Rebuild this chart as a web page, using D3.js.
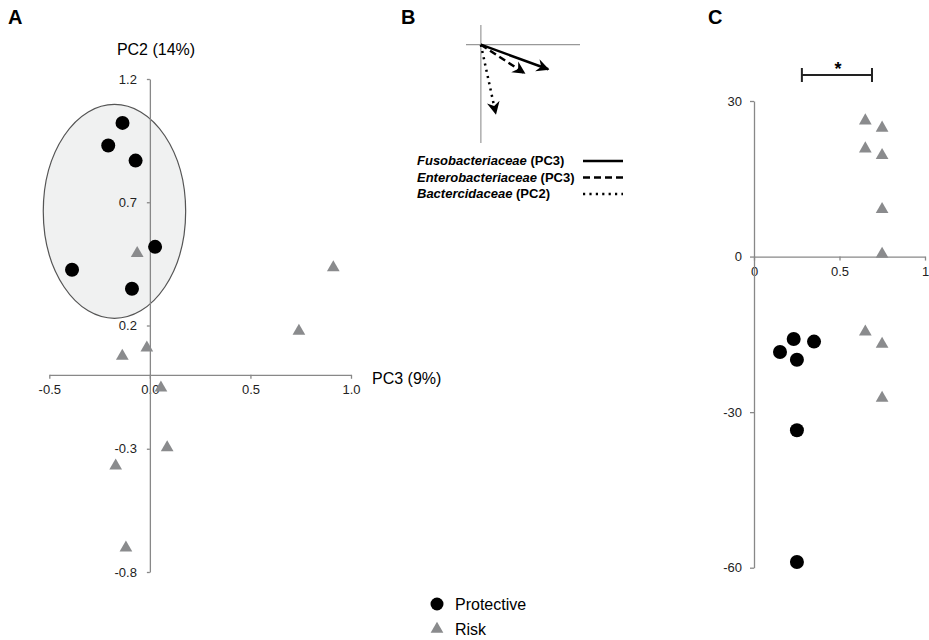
<!DOCTYPE html>
<html>

<head>
    <meta charset="utf-8">
    <script src="https://cdnjs.cloudflare.com/ajax/libs/d3/7.8.5/d3.min.js"></script>
    <style>
        body { margin: 0; background: #fff; }
        text { font-family: "Liberation Sans", Arial, sans-serif; }
        .axis text { font-size: 13px; fill: #222; }
        .axis path, .axis line { stroke: #888; stroke-width: 1.3; }
    </style>
</head>

<body>
    <script>
        // panel A: PCA scores (PC3, PC2)
        var protectiveA = [[-0.136, 1.022], [-0.207, 0.930], [-0.071, 0.869],
                           [0.026, 0.519], [-0.387, 0.426], [-0.089, 0.349]];
        var riskA = [[-0.063, 0.493], [0.912, 0.435], [0.741, 0.177], [-0.137, 0.076],
                     [-0.015, 0.109], [0.055, -0.053], [0.086, -0.295], [-0.170, -0.369],
                     [-0.119, -0.702]];
        var xTicksA = [-0.5, 0.0, 0.5, 1.0];
        var yTicksA = [-0.8, -0.3, 0.2, 0.7, 1.2];
        var ellipseA = { cx: -0.176, cy: 0.663, rx: 0.354, ry: 0.434 };

        // panel B: loadings
        var loadingNames = ['Fusobacteriaceae', 'Enterobacteriaceae', 'Bactercidaceae'];
        var loadingPC = ['PC3', 'PC3', 'PC2'];
        var loadingX = [0.68, 0.44, 0.15];
        var loadingY = [-0.25, -0.29, -0.70];
        var loadingDash = ['none', '7,4', '2.2,4.2'];

        // panel C
        var protectiveC = [[0.232, -15.9], [0.351, -16.4], [0.152, -18.4],
                           [0.251, -19.9], [0.251, -33.5], [0.251, -58.9]];
        var riskC = [[0.651, 26.2], [0.749, 24.8], [0.651, 20.8], [0.749, 19.5],
                     [0.749, 9.1], [0.749, 0.5], [0.651, -14.5], [0.749, -16.9],
                     [0.749, -27.3]];
        var xTicksC = [0, 0.5, 1];
        var yTicksC = [-60, -30, 0, 30];
        var bracketC = { x0: 0.28, x1: 0.69, y: 35, label: '*' };

        var legendLabels = ['Protective', 'Risk'];

        var black = '#000',
            grey = '#8a8b8d';

        // plain hyphen minus like the original figure
        function fmt(spec) {
            var f = d3.format(spec);
            return function(d) { return f(d).replace('\u2212', '-'); };
        }

        var svg = d3.select('body')
            .append('svg')
            .attr('width', 929)
            .attr('height', 640);

        var tri = d3.symbol().type(d3.symbolTriangle).size(70);

        // panel letters
        svg.selectAll('text.letter')
            .data([['A', 8], ['B', 401], ['C', 708]])
            .enter().append('text')
            .attr('class', 'letter')
            .attr('x', function(d) { return d[1]; })
            .attr('y', 24)
            .style('font-size', '20px')
            .style('font-weight', 'bold')
            .text(function(d) { return d[0]; });

        /* ---------- panel A ---------- */
        var xA = d3.scaleLinear().domain([-0.5, 1.0]).range([49.3, 351]);
        var yA = d3.scaleLinear().domain([-0.8, 1.2]).range([572, 79]);

        svg.append('ellipse')
            .attr('cx', xA(ellipseA.cx))
            .attr('cy', yA(ellipseA.cy))
            .attr('rx', xA(ellipseA.cx + ellipseA.rx) - xA(ellipseA.cx))
            .attr('ry', yA(ellipseA.cy - ellipseA.ry) - yA(ellipseA.cy))
            .style('fill', '#f0f1f1')
            .style('stroke', '#555')
            .style('stroke-width', 1.2);

        svg.append('g')
            .attr('class', 'axis')
            .attr('transform', 'translate(0,' + yA(0) + ')')
            .call(d3.axisBottom(xA).tickValues(xTicksA).tickFormat(fmt('.1f'))
                .tickSize(4).tickSizeOuter(0).tickPadding(6));

        svg.append('g')
            .attr('class', 'axis')
            .attr('transform', 'translate(' + xA(0) + ',0)')
            .call(d3.axisLeft(yA).tickValues(yTicksA).tickFormat(fmt('.1f'))
                .tickSize(3).tickSizeOuter(0).tickPadding(10));

        svg.append('text')
            .attr('x', 156)
            .attr('y', 55)
            .attr('text-anchor', 'middle')
            .style('font-size', '16px')
            .text('PC2 (14%)');

        svg.append('text')
            .attr('x', 372)
            .attr('y', 384)
            .style('font-size', '16px')
            .text('PC3 (9%)');

        svg.selectAll('path.riskA')
            .data(riskA)
            .enter().append('path')
            .attr('class', 'riskA')
            .attr('d', tri)
            .attr('transform', function(d) { return 'translate(' + xA(d[0]) + ',' + yA(d[1]) + ')'; })
            .style('fill', grey);

        svg.selectAll('circle.protA')
            .data(protectiveA)
            .enter().append('circle')
            .attr('class', 'protA')
            .attr('cx', function(d) { return xA(d[0]); })
            .attr('cy', function(d) { return yA(d[1]); })
            .attr('r', 7)
            .style('fill', black);

        /* ---------- panel B ---------- */
        var xB = d3.scaleLinear().domain([-0.15, 1]).range([466, 580]);
        var yB = d3.scaleLinear().domain([0.2, -1]).range([25, 143]);

        svg.append('line')
            .attr('x1', xB(0)).attr('x2', xB(0))
            .attr('y1', yB(0.2)).attr('y2', yB(-1))
            .style('stroke', '#999').style('stroke-width', 1.2);
        svg.append('line')
            .attr('x1', xB(-0.15)).attr('x2', xB(1))
            .attr('y1', yB(0)).attr('y2', yB(0))
            .style('stroke', '#999').style('stroke-width', 1.2);

        svg.append('defs').append('marker')
            .attr('id', 'head')
            .attr('viewBox', '0 -6 12 12')
            .attr('refX', 10)
            .attr('refY', 0)
            .attr('markerUnits', 'userSpaceOnUse')
            .attr('markerWidth', 14)
            .attr('markerHeight', 14)
            .attr('orient', 'auto')
            .append('path')
            .attr('d', 'M0,-5.5L11,0L0,5.5L3.5,0Z')
            .style('fill', black);

        svg.selectAll('line.load')
            .data(loadingX)
            .enter().append('line')
            .attr('class', 'load')
            .attr('x1', xB(0))
            .attr('y1', yB(0))
            .attr('x2', function(d) { return xB(d); })
            .attr('y2', function(d, i) { return yB(loadingY[i]); })
            .attr('marker-end', 'url(#head)')
            .style('stroke', black)
            .style('stroke-width', 2.5)
            .style('stroke-dasharray', function(d, i) { return loadingDash[i]; });

        var legB = svg.selectAll('g.legB')
            .data(loadingNames)
            .enter().append('g')
            .attr('class', 'legB')
            .attr('transform', function(d, i) { return 'translate(417,' + (165 + i * 16.5) + ')'; });

        var tB = legB.append('text')
            .style('font-size', '13px')
            .style('font-weight', 'bold');
        tB.append('tspan')
            .style('font-style', 'italic')
            .text(function(d) { return d; });
        tB.append('tspan')
            .text(function(d, i) { return ' (' + loadingPC[i] + ')'; });

        legB.append('line')
            .attr('x1', 166).attr('x2', 206)
            .attr('y1', -4).attr('y2', -4)
            .style('stroke', black)
            .style('stroke-width', 2.5)
            .style('stroke-dasharray', function(d, i) { return loadingDash[i]; });

        /* ---------- panel C ---------- */
        var xC = d3.scaleLinear().domain([0, 1]).range([754, 925]);
        var yC = d3.scaleLinear().domain([-60, 30]).range([567.7, 101]);

        svg.append('g')
            .attr('class', 'axis')
            .attr('transform', 'translate(0,' + yC(0) + ')')
            .call(d3.axisBottom(xC).tickValues(xTicksC).tickFormat(fmt('')).tickSize(4)
                .tickSizeOuter(0).tickPadding(6));

        svg.append('g')
            .attr('class', 'axis')
            .attr('transform', 'translate(' + xC(0) + ',0)')
            .call(d3.axisLeft(yC).tickValues(yTicksC).tickFormat(fmt('')).tickSize(4)
                .tickSizeOuter(0).tickPadding(8));

        svg.selectAll('path.riskC')
            .data(riskC)
            .enter().append('path')
            .attr('class', 'riskC')
            .attr('d', tri)
            .attr('transform', function(d) { return 'translate(' + xC(d[0]) + ',' + yC(d[1]) + ')'; })
            .style('fill', grey);

        svg.selectAll('circle.protC')
            .data(protectiveC)
            .enter().append('circle')
            .attr('class', 'protC')
            .attr('cx', function(d) { return xC(d[0]); })
            .attr('cy', function(d) { return yC(d[1]); })
            .attr('r', 7)
            .style('fill', black);

        // significance bracket
        var by = yC(bracketC.y);
        svg.append('path')
            .attr('d', 'M' + xC(bracketC.x0) + ',' + (by - 7) + 'V' + (by + 7) +
                'M' + xC(bracketC.x0) + ',' + by + 'H' + xC(bracketC.x1) +
                'M' + xC(bracketC.x1) + ',' + (by - 7) + 'V' + (by + 7))
            .style('fill', 'none')
            .style('stroke', '#222')
            .style('stroke-width', 2);
        svg.append('text')
            .attr('x', (xC(bracketC.x0) + xC(bracketC.x1)) / 2 + 1)
            .attr('y', by)
            .attr('text-anchor', 'middle')
            .style('font-size', '18px')
            .style('font-weight', 'bold')
            .text(bracketC.label);

        /* ---------- legend ---------- */
        var leg = svg.selectAll('g.leg')
            .data(legendLabels)
            .enter().append('g')
            .attr('class', 'leg')
            .attr('transform', function(d, i) { return 'translate(437,' + (604 + i * 25) + ')'; });

        leg.filter(function(d, i) { return i === 0; })
            .append('circle')
            .attr('r', 6.5)
            .style('fill', black);
        leg.filter(function(d, i) { return i === 1; })
            .append('path')
            .attr('d', tri)
            .style('fill', grey);

        leg.append('text')
            .attr('x', 18)
            .attr('y', 6)
            .style('font-size', '16px')
            .text(function(d) { return d; });
    </script>
</body>

</html>
